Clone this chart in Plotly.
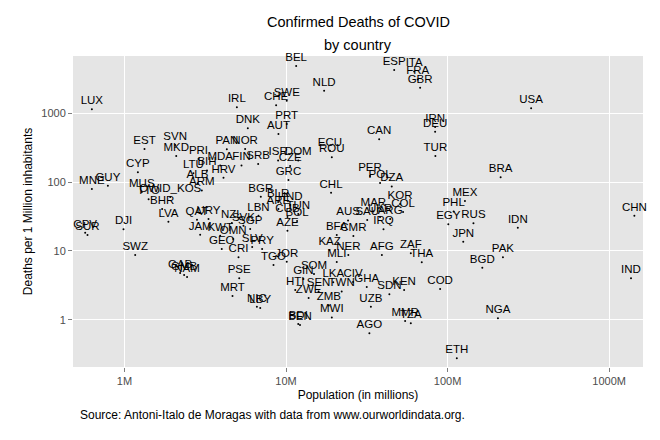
import numpy as np
import plotly.graph_objects as go

# Country codes, population (millions) and deaths per 1M inhabitants
codes = [
    "LUX", "IRL", "DNK", "EST", "SVN", "MKD", "PRI", "PAN", "NOR", "BEL",
    "ESP", "ITA", "FRA", "GBR", "NLD", "SWE", "CHE", "PRT", "AUT", "CAN",
    "IRN", "DEU", "TUR", "ECU", "ROU", "USA", "CYP", "MNE", "GUY", "MUS",
    "OWID_KOS", "TTO", "BHR", "LTU", "BIH", "MDA", "FIN", "SRB", "HRV", "ALB",
    "ARM", "LVA", "QAT", "URY", "NZL", "SVK", "LBN", "JAM", "KWT", "OMN",
    "SGP", "GEO", "CRI", "SLV", "PRY", "CPV", "SUR", "DJI", "SWZ", "GAB",
    "GMB", "NAM", "PSE", "MRT", "NIC", "LBY", "KAZ", "NER", "MLI", "AFG",
    "ZAF", "THA", "JOR", "TGO", "SOM", "GIN", "LKA", "CIV", "GHA", "HTI",
    "SEN", "TWN", "ZWE", "ZMB", "SDN", "KEN", "COD", "UZB", "MWI", "BEN",
    "BDI", "AGO", "MMR", "TZA", "ETH", "NGA", "BGD", "PAK", "IDN", "JPN",
    "EGY", "RUS", "PHL", "MEX", "CHN", "IND", "BRA", "KOR", "PER", "POL",
    "DZA", "MAR", "COL", "ARG", "AUS", "SAU", "UKR", "IRQ", "BFA", "CMR",
    "AZE", "CHL", "GRC", "BGR", "BLR", "HND", "ARE", "CUB", "TUN", "BOL",
    "ISR", "DOM", "CZE",
]

population_m = [
    0.628, 4.96, 5.80, 1.33, 2.06, 2.09, 2.87, 4.30, 5.58, 11.55,
    46.7, 62.1, 65.3, 67.6, 17.2, 10.1, 8.68, 10.1, 8.97, 37.7,
    83.7, 83.7, 84.0, 18.7, 19.2, 329, 1.21, 0.628, 0.789, 1.28,
    1.92, 1.41, 1.71, 2.67, 3.24, 3.91, 5.30, 6.72, 4.10, 2.83,
    3.01, 1.87, 2.81, 3.31, 4.62, 5.45, 6.75, 2.94, 3.91, 4.71,
    6.00, 4.00, 5.08, 6.17, 7.11, 0.571, 0.590, 0.986, 1.165, 2.21,
    2.34, 2.44, 5.13, 4.66, 6.60, 6.92, 18.6, 24.3, 20.6, 39.2,
    59.2, 69.2, 10.1, 8.36, 14.9, 12.8, 19.6, 26.0, 31.6, 11.4,
    15.9, 22.1, 13.8, 18.4, 43.6, 53.8, 89.9, 33.5, 19.2, 12.2,
    11.9, 32.8, 54.6, 59.2, 114, 205, 164, 220, 272, 125,
    101, 144.5, 109, 128, 1432, 1366, 213, 50.8, 33.1, 38.2,
    45.1, 34.7, 53.0, 44.1, 24.2, 31.8, 38.2, 40.1, 20.6, 26.1,
    10.2, 19.0, 10.35, 6.98, 8.93, 10.6, 8.97, 10.2, 11.9, 11.7,
    8.93, 11.9, 10.6,
]

deaths_per_m = [
    1143, 1222, 605, 303, 346, 239, 217, 300, 303, 4870,
    4260, 4050, 3100, 2355, 2130, 1525, 1307, 699, 500, 419,
    632, 540, 239, 286, 229, 1182, 139, 79.4, 88.7, 71.8,
    60.7, 56.2, 40.6, 134, 147, 174, 174, 183, 116, 96.1,
    75.5, 26.6, 28.4, 29.1, 25.4, 23.2, 32.5, 17.2, 16.6, 14.9,
    20.8, 10.7, 8.07, 11.4, 10.7, 18.4, 17.0, 20.6, 8.72, 4.77,
    4.46, 4.18, 4.0, 2.21, 1.55, 1.48, 10.3, 8.72, 6.9, 8.72,
    9.23, 6.83, 6.97, 6.24, 4.62, 3.9, 3.5, 3.53, 2.99, 2.7,
    2.57, 2.57, 2.07, 1.61, 2.34, 2.7, 2.8, 1.55, 1.08, 0.837,
    0.866, 0.634, 0.957, 0.886, 0.275, 1.05, 5.7, 8.07, 21.7, 13.6,
    24.4, 25.2, 37.4, 53.1, 32.5, 4.0, 117.5, 48, 123, 97,
    86.3, 37.4, 36.8, 29.1, 27.7, 28.1, 31.1, 20.6, 17.0, 16.5,
    19.7, 70.2, 107, 61.3, 51.4, 46.5, 40.6, 31.1, 34.4, 27.2,
    206, 206, 171,
]

x_ticks = [1, 10, 100, 1000]
x_tick_labels = ["1M", "10M", "100M", "1000M"]
y_ticks = [1, 10, 100, 1000]
y_tick_labels = ["1", "10", "100", "1000"]

FONT = "Liberation Sans, Arial, Helvetica, sans-serif"

# the page body adds an 8px margin, so the figure is 8px smaller than the window
W, H = 652, 432
ML, MR, MT, MB = 65, 17, 48, 73
PW, PH = W - ML - MR, H - MT - MB

fig = go.Figure()

fig.add_trace(
    go.Scatter(
        x=population_m,
        y=deaths_per_m,
        mode="markers+text",
        text=codes,
        textposition="top center",
        textfont=dict(family=FONT, size=11.5, color="black"),
        marker=dict(size=2, color="black"),
        cliponaxis=False,
        hovertemplate="%{text}<br>Pop: %{x}M<br>Deaths/1M: %{y}<extra></extra>",
    )
)

fig.update_layout(
    width=W,
    height=H,
    margin=dict(l=ML, r=MR, t=MT, b=MB),
    paper_bgcolor="white",
    plot_bgcolor="#E5E5E5",
    showlegend=False,
    font=dict(family=FONT, size=11, color="black"),
)

# two-line title
for line, y_px in [("Confirmed Deaths of COVID", 14), ("by country", 37)]:
    fig.add_annotation(
        text=line, xref="paper", yref="paper",
        x=0.5, y=1 + (MT - y_px) / PH,
        xanchor="center", yanchor="middle", showarrow=False,
        font=dict(family=FONT, size=14.5, color="black"),
    )

fig.update_xaxes(
    type="log",
    range=[np.log10(0.48), np.log10(1620)],
    tickvals=x_ticks,
    ticktext=x_tick_labels,
    ticks="outside",
    ticklen=4,
    tickcolor="#7F7F7F",
    tickfont=dict(family=FONT, size=11, color="#4D4D4D"),
    showgrid=True,
    gridcolor="white",
    gridwidth=1.2,
    zeroline=False,
    showline=False,
    automargin=False,
    title=dict(text="Population (in millions)",
               font=dict(family=FONT, size=12, color="black"),
               standoff=4),
)

fig.update_yaxes(
    type="log",
    range=[-0.687, 3.833],
    tickvals=y_ticks,
    ticktext=y_tick_labels,
    ticks="outside",
    ticklen=4,
    tickcolor="#7F7F7F",
    tickfont=dict(family=FONT, size=11, color="#4D4D4D"),
    showgrid=True,
    gridcolor="white",
    gridwidth=1.2,
    zeroline=False,
    showline=False,
    automargin=False,
    title=dict(text="Deaths per 1 Million inhabitants",
               font=dict(family=FONT, size=12, color="black"),
               standoff=6),
)

fig.add_annotation(
    text="Source: Antoni-Italo de Moragas with data from www.ourworldindata.org.",
    xref="paper", yref="paper",
    x=5 / PW, y=-48 / PH,
    xanchor="left", yanchor="middle",
    showarrow=False,
    font=dict(family=FONT, size=12, color="black"),
)

fig.write_html("out.html")
